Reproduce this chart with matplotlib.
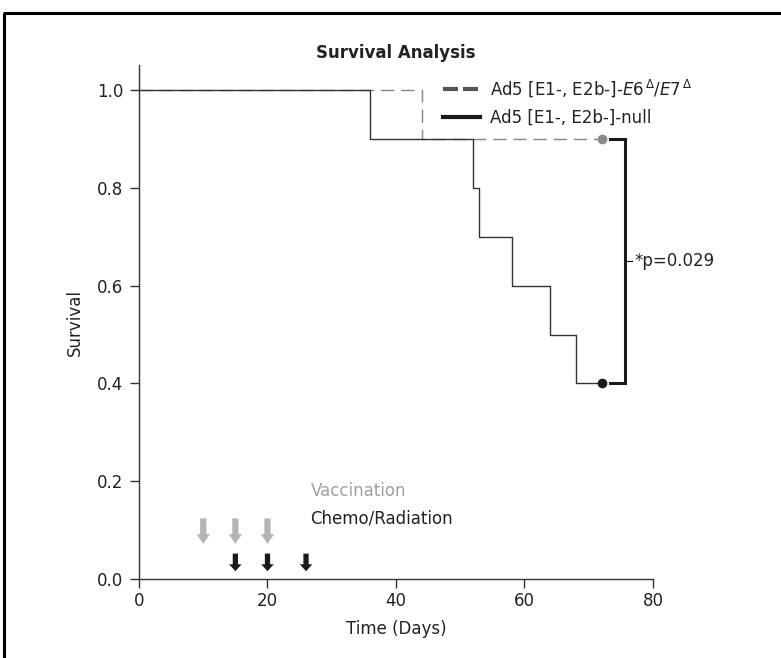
import matplotlib
matplotlib.use("Agg")
import matplotlib.pyplot as plt
from matplotlib.lines import Line2D

plt.rcParams['font.family'] = ['DejaVu Sans']
plt.rcParams['mathtext.fontset'] = 'dejavusans'

# Data
null_times = [0, 36, 52, 53, 58, 64, 68, 72]
null_surv = [1.0, 0.9, 0.8, 0.7, 0.6, 0.5, 0.4, 0.4]
e67_times = [0, 44, 72]
e67_surv = [1.0, 0.9, 0.9]
vacc_days = [10, 15, 20]
chemo_days = [15, 20, 26]
p_text = "*p=0.029"
label_e67 = r"Ad5 [E1-, E2b-]-$\mathit{E6}^{\,\mathit{\Delta}}/\mathit{E7}^{\,\mathit{\Delta}}$"
label_null = "Ad5 [E1-, E2b-]-null"
xticks = [0, 20, 40, 60, 80]
yticks = [0.0, 0.2, 0.4, 0.6, 0.8, 1.0]

txt = '#222222'
axc = '#333333'
fs = 12

fig = plt.figure(figsize=(7.81, 6.58), dpi=100)
ax = fig.add_axes([0.178, 0.12, 0.658, 0.781])

ax.step(e67_times, e67_surv, where='post', color='#858585', lw=1.0,
        linestyle=(0, (9.5, 5)), zorder=2)
ax.step(null_times, null_surv, where='post', color='#333333', lw=1.0, zorder=3)
ax.plot([e67_times[-1]], [e67_surv[-1]], 'o', color='#8a8a8a', ms=6, zorder=4)
ax.plot([null_times[-1]], [null_surv[-1]], 'o', color='#1a1a1a', ms=6, zorder=4)

# significance bracket
y_hi, y_lo = e67_surv[-1], null_surv[-1]
xb0, xb1 = 73.3, 75.6
ax.plot([xb0, xb1, xb1, xb0], [y_hi, y_hi, y_lo, y_lo], color='#1a1a1a', lw=2.2,
        solid_joinstyle='miter', zorder=3)
ymid = (y_hi + y_lo) / 2
ax.plot([xb1, xb1 + 1.2], [ymid, ymid], color='#1a1a1a', lw=0.9)
ax.text(xb1 + 1.5, ymid, p_text, fontsize=fs, color=txt, va='center', ha='left')

# treatment arrows
for d in vacc_days:
    ax.annotate('', xy=(d, 0.072), xytext=(d, 0.124),
                arrowprops=dict(arrowstyle='simple,head_length=0.7,head_width=0.95,tail_width=0.45',
                                color='#b4b4b4', lw=0, shrinkA=0, shrinkB=0))
for d in chemo_days:
    ax.annotate('', xy=(d, 0.016), xytext=(d, 0.052),
                arrowprops=dict(arrowstyle='simple,head_length=0.5,head_width=0.9,tail_width=0.38',
                                color='#1a1a1a', lw=0, shrinkA=0, shrinkB=0))
ax.text(26.7, 0.18, 'Vaccination', fontsize=fs, color='#a0a0a0', va='center', ha='left')
ax.text(26.7, 0.123, 'Chemo/Radiation', fontsize=fs, color=txt, va='center', ha='left')

ax.set_xlim(0, 80)
ax.set_ylim(0, 1.051)
ax.set_xticks(xticks)
ax.set_yticks(yticks)
ax.set_yticklabels([f"{v:.1f}" for v in yticks])
ax.tick_params(direction='out', length=6.5, width=1.0, color=axc, labelsize=fs,
               labelcolor=txt)
ax.tick_params(axis='y', pad=5)
ax.tick_params(axis='x', pad=3)
for s in ['top', 'right']:
    ax.spines[s].set_visible(False)
for s in ['left', 'bottom']:
    ax.spines[s].set_color(axc)
    ax.spines[s].set_linewidth(1.0)

ax.set_xlabel('Time (Days)', fontsize=fs, color=txt, labelpad=7)
ax.set_ylabel('Survival', fontsize=fs, color=txt, labelpad=9)
ax.set_title('Survival Analysis', fontsize=12, fontweight='bold', color=txt, pad=5)

handles = [Line2D([], [], color='#555555', lw=3, linestyle=(0, (3.6, 1.2))),
           Line2D([], [], color='#1a1a1a', lw=3)]
ax.legend(handles, [label_e67, label_null], loc='upper left',
          bbox_to_anchor=(443 / 781, 1 - 77 / 658), bbox_transform=fig.transFigure,
          frameon=False, fontsize=fs, borderpad=0, borderaxespad=0,
          handlelength=2.2, handletextpad=0.6, labelspacing=0.6, labelcolor=txt)

# figure border (top and left)
fig.add_artist(Line2D([0.005, 0.005], [0.0, 0.981], transform=fig.transFigure,
                      color='black', lw=2.2, solid_capstyle='butt'))
fig.add_artist(Line2D([0.0035, 1.0], [0.981, 0.981], transform=fig.transFigure,
                      color='black', lw=2.2, solid_capstyle='butt'))

fig.savefig('out.png', dpi=100)
